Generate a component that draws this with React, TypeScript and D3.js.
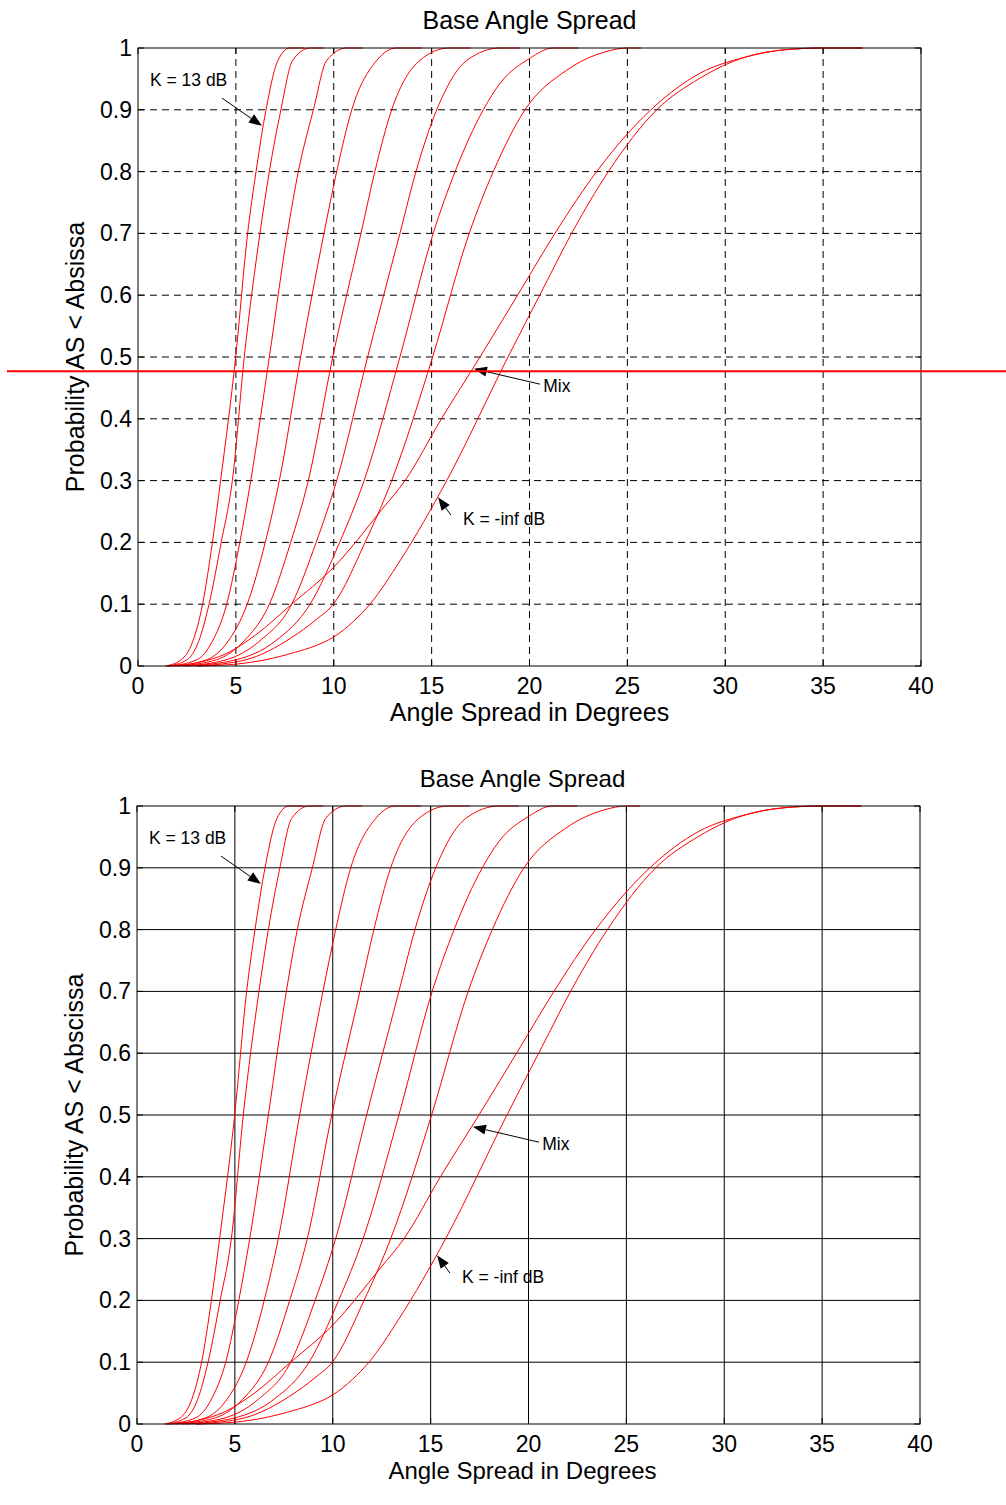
import * as d3 from "d3";

type Pt = [number, number];

const xTicks = [0, 5, 10, 15, 20, 25, 30, 35, 40];
const yTicks = [0, 0.1, 0.2, 0.3, 0.4, 0.5, 0.6, 0.7, 0.8, 0.9, 1];

const k13: Pt[] = [[1.4, 0], [2.2, 0.01], [2.8, 0.04], [3.3, 0.1], [3.8, 0.2], [4.22, 0.3], [4.99, 0.5], [5.6, 0.7], [6.03, 0.8], [6.54, 0.9], [7.15, 0.98], [7.76, 1], [8.5, 1]];
const c2: Pt[] = [[1.5, 0], [2.5, 0.01], [3.1, 0.04], [3.63, 0.1], [4.25, 0.2], [4.82, 0.3], [5.43, 0.5], [6.23, 0.7], [6.71, 0.8], [7.3, 0.9], [7.9, 0.98], [8.8, 1], [9.5, 1]];
const c3: Pt[] = [[1.6, 0], [3.0, 0.01], [3.8, 0.04], [4.53, 0.1], [5.2, 0.2], [5.76, 0.3], [6.71, 0.5], [7.63, 0.7], [8.19, 0.8], [8.96, 0.9], [9.64, 0.98], [10.66, 1], [11.5, 1]];
const c4: Pt[] = [[1.8, 0], [3.5, 0.01], [4.6, 0.04], [5.58, 0.1], [6.5, 0.2], [7.22, 0.3], [8.31, 0.5], [9.5, 0.7], [10.15, 0.8], [10.92, 0.9], [12.2, 0.98], [13.2, 1], [14.5, 1]];
const c5: Pt[] = [[2, 0], [4, 0.01], [5.4, 0.04], [6.71, 0.1], [7.8, 0.2], [8.7, 0.3], [9.95, 0.5], [11.39, 0.7], [12.1, 0.8], [12.96, 0.9], [14.4, 0.98], [15.9, 1], [17, 1]];
const c6: Pt[] = [[2.3, 0], [4.5, 0.01], [6.2, 0.04], [7.85, 0.1], [9.1, 0.2], [10.15, 0.3], [11.73, 0.5], [13.38, 0.7], [14.2, 0.8], [15.26, 0.9], [16.8, 0.98], [18.5, 1], [19.5, 1]];
const c7: Pt[] = [[2.5, 0], [5, 0.01], [7, 0.04], [8.79, 0.1], [10.3, 0.2], [11.55, 0.3], [13.38, 0.5], [15.08, 0.7], [16.2, 0.8], [17.64, 0.9], [18.5, 0.943], [20, 0.983], [21.2, 1], [22.5, 1]];
const c8: Pt[] = [[3, 0], [5.5, 0.01], [7.8, 0.045], [9.1, 0.075], [9.98, 0.1], [11.6, 0.2], [12.96, 0.3], [15.05, 0.5], [16.92, 0.7], [18.15, 0.8], [19.77, 0.9], [21.9, 0.964], [23.9, 0.994], [25, 1], [25.7, 1]];
const mix: Pt[] = [[1.5, 0], [3, 0.005], [4.5, 0.02], [6, 0.05], [7.85, 0.1], [10, 0.16], [12.45, 0.253], [13.64, 0.3], [15.5, 0.4], [17.47, 0.5], [19.6, 0.611], [21.3, 0.7], [23.43, 0.8], [26.2, 0.9], [28.7, 0.959], [31, 0.985], [33, 0.997], [35, 1], [37, 1]];
const kInf: Pt[] = [[3, 0], [5, 0.003], [6.5, 0.01], [8, 0.022], [9, 0.032], [10, 0.047], [11, 0.072], [11.85, 0.1], [13.38, 0.17], [15.77, 0.3], [18.9, 0.5], [20.7, 0.611], [22.15, 0.7], [24.03, 0.8], [26.5, 0.9], [28.7, 0.951], [31, 0.985], [33, 0.997], [35, 1], [37, 1]];

const curves = [k13, c2, c3, c4, c5, c6, c7, c8, mix, kInf];

// labels with arrow: text anchor and arrow tail -> tip, in data units
const notes = [
  { text: "K = 13 dB", at: [0.61, 0.938], from: [4.29, 0.919], to: [6.33, 0.874] },
  { text: "Mix", at: [20.7, 0.443], from: [20.54, 0.456], to: [17.16, 0.481] },
  { text: "K = -inf dB", at: [16.6, 0.228], from: [15.99, 0.244], to: [15.33, 0.273] },
];

const refLevel = 0.477;

const font = "'Liberation Sans', Arial, sans-serif";

type PanelProps = {
  top: number;
  left: number;
  dashed: boolean;
  yLabel: string;
  labelSize: number;
  labelDx: number;
  showRef?: boolean;
};

const Panel = ({ top, left, dashed, yLabel, labelSize, labelDx, showRef }: PanelProps) => {
  const w = 783;
  const h = 618;
  const x = d3.scaleLinear().domain([0, 40]).range([left, left + w]);
  const y = d3.scaleLinear().domain([0, 1]).range([top + h, top]);
  const line = d3
    .line<Pt>()
    .x((d) => x(d[0]))
    .y((d) => y(d[1]))
    .curve(d3.curveMonotoneX);
  const gridStyle = dashed ? { strokeDasharray: "7,5" } : {};
  const tl = 6;
  const cx = (x(0) + x(40)) / 2 + labelDx;

  return (
    <g>
      <g stroke="#000" strokeWidth={1} {...gridStyle}>
        {xTicks.slice(1, -1).map((t) => (
          <line key={"gx" + t} x1={x(t)} x2={x(t)} y1={y(0)} y2={y(1)} />
        ))}
        {yTicks.slice(1, -1).map((t) => (
          <line key={"gy" + t} x1={x(0)} x2={x(40)} y1={y(t)} y2={y(t)} />
        ))}
      </g>
      <g stroke="#000" strokeWidth={1}>
        {xTicks.map((t) => (
          <g key={"tx" + t}>
            <line x1={x(t)} x2={x(t)} y1={y(0)} y2={y(0) - tl} />
            <line x1={x(t)} x2={x(t)} y1={y(1)} y2={y(1) + tl} />
          </g>
        ))}
        {yTicks.map((t) => (
          <g key={"ty" + t}>
            <line x1={x(0)} x2={x(0) + tl} y1={y(t)} y2={y(t)} />
            <line x1={x(40)} x2={x(40) - tl} y1={y(t)} y2={y(t)} />
          </g>
        ))}
      </g>
      <g fill="none" stroke="#ff0000" strokeWidth={1}>
        {curves.map((c, i) => (
          <path key={i} d={line(c) ?? ""} />
        ))}
      </g>
      <rect x={x(0)} y={y(1)} width={w} height={h} fill="none" stroke="#000" strokeWidth={1} />
      <g fontFamily={font} fontSize={23} fill="#000">
        {xTicks.map((t) => (
          <text key={"lx" + t} x={x(t)} y={y(0) + 28} textAnchor="middle">
            {t}
          </text>
        ))}
        {yTicks.map((t) => (
          <text key={"ly" + t} x={x(0) - 6} y={y(t) + 8} textAnchor="end">
            {t}
          </text>
        ))}
        <text x={cx} y={y(1) - 19} textAnchor="middle" fontSize={labelSize}>
          Base Angle Spread
        </text>
        <text x={cx} y={y(0) + 55} textAnchor="middle" fontSize={labelSize}>
          Angle Spread in Degrees
        </text>
        <text
          transform={`translate(${left - 54},${y(0.5)}) rotate(-90)`}
          textAnchor="middle"
          fontSize={25}
        >
          {yLabel}
        </text>
      </g>
      {notes.map((n) => {
        const x1 = x(n.from[0]);
        const y1 = y(n.from[1]);
        const x2 = x(n.to[0]);
        const y2 = y(n.to[1]);
        const a = Math.atan2(y2 - y1, x2 - x1);
        const L = 13;
        const W = 5;
        const bx = x2 - L * Math.cos(a);
        const by = y2 - L * Math.sin(a);
        const head = [
          [x2, y2],
          [bx + W * Math.sin(a), by - W * Math.cos(a)],
          [bx - W * Math.sin(a), by + W * Math.cos(a)],
        ]
          .map((p) => p.join(","))
          .join(" ");
        return (
          <g key={n.text}>
            <line x1={x1} y1={y1} x2={bx} y2={by} stroke="#000" strokeWidth={1} />
            <polygon points={head} fill="#000" />
            <text x={x(n.at[0])} y={y(n.at[1])} fontFamily={font} fontSize={17.5}>
              {n.text}
            </text>
          </g>
        );
      })}
      {showRef && (
        <line x1={7} x2={1006} y1={y(refLevel)} y2={y(refLevel)} stroke="#ff0000" strokeWidth={2} />
      )}
    </g>
  );
};

export default function App() {
  return (
    <svg
      width={1006}
      height={1505}
      style={{ position: "absolute", left: 0, top: 0, background: "#fff" }}
    >
      <rect width={1006} height={1505} fill="#fff" />
      <Panel top={48} left={138} dashed yLabel="Probability AS < Absissa" labelSize={25} labelDx={0} showRef />
      <Panel top={806} left={137} dashed={false} yLabel="Probability AS < Abscissa" labelSize={24} labelDx={-6} />
    </svg>
  );
}
